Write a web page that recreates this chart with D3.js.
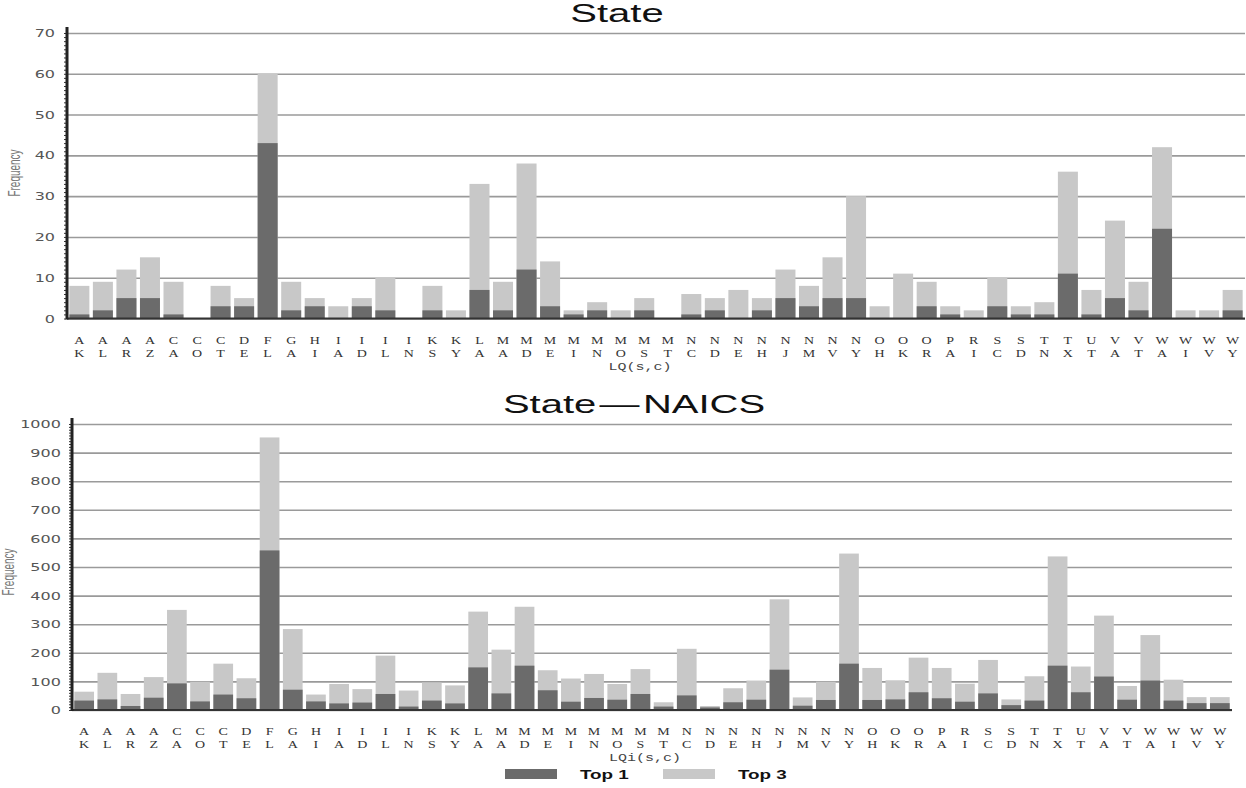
<!DOCTYPE html>
<html>
<head>
<meta charset="utf-8">
<title>State / State-NAICS frequency</title>
<script src="https://d3js.org/d3.v7.min.js"></script>
<style>
  body { margin: 0; background: #fff; }
  svg text { font-family: 'Liberation Sans', Arial, sans-serif; }
  .tick line { stroke: #9a9a9a; stroke-width: 1.6px; }
  .grid .domain, .labels .domain, .minor .domain { display: none; }
  .minor .tick line { stroke: #333; stroke-width: 1px; }
  .labels text { font-family: 'DejaVu Sans', sans-serif; font-size: 10px; fill: #555; }
  .xl { font-family: 'Liberation Serif', 'DejaVu Serif', serif; font-size: 10px; fill: #333; }
  .xt { font-family: 'Liberation Mono', monospace; font-size: 10px; fill: #444; }
</style>
</head>
<body>
<script>
var w = 1246, h = 788;
var sx = 1.6; // picture is stretched sideways

var states = ["AK","AL","AR","AZ","CA","CO","CT","DE","FL","GA","HI","IA","ID","IL","IN","KS","KY","LA","MA","MD",
  "ME","MI","MN","MO","MS","MT","NC","ND","NE","NH","NJ","NM","NV","NY","OH","OK","OR","PA","RI","SC",
  "SD","TN","TX","UT","VA","VT","WA","WI","WV","WY"];

// State chart
var stateTop3 = [8,9,12,15,9,0,8,5,60,9,5,3,5,10,0,8,2,33,9,38,14,2,4,2,5,0,6,5,7,5,12,8,15,30,3,11,9,3,2,10,3,4,36,7,24,9,42,2,2,7];
var stateTop1 = [1,2,5,5,1,0,3,3,43,2,3,0,3,2,0,2,0,7,2,12,3,1,2,0,2,0,1,2,0,2,5,3,5,5,0,0,3,1,0,3,1,1,11,1,5,2,22,0,0,2];
var stateTicks = [0,10,20,30,40,50,60,70];

// State - NAICS chart
var naicsTop3 = [64,130,56,115,350,99,162,111,953,283,54,91,73,190,68,96,86,344,211,361,139,110,126,91,143,27,214,14,76,103,387,44,99,547,147,104,183,147,92,175,37,118,537,152,330,84,262,106,45,45];
var naicsTop1 = [33,37,14,43,93,30,54,41,558,71,30,23,26,56,12,33,23,149,58,155,69,29,42,36,56,12,51,9,27,36,141,15,35,162,35,37,62,41,29,58,17,33,155,62,117,36,103,33,24,24];
var naicsTicks = [0,100,200,300,400,500,600,700,800,900,1000];

var legendNames = ["Top 1", "Top 3"];
var dark = "#6b6b6b", light = "#c8c8c8";

var svg = d3.select("body").append("svg")
  .attr("width", w).attr("height", h);

function stretchText(sel, x, y, txt, k) {
  return sel.append("text")
    .attr("transform", "translate(" + x + "," + y + ") scale(" + (k || sx) + ",1)")
    .text(txt);
}

function drawChart(cfg) {
  var g = svg.append("g");
  var x = d3.scaleBand().domain(states).range([cfg.left, cfg.right]).paddingInner(0.15).paddingOuter(0.1);
  var y = d3.scaleLinear().domain([0, cfg.max]).range([cfg.bottom, cfg.top]);

  // grid lines
  g.append("g").attr("class", "grid")
    .attr("transform", "translate(" + cfg.left + ",0)")
    .call(d3.axisLeft(y).tickValues(cfg.ticks).tickSize(-(cfg.gridEnd - cfg.left)).tickFormat(""));

  // bars, top 3 behind, top 1 in front
  g.append("g").selectAll("rect").data(cfg.top3).enter().append("rect")
    .attr("x", function (d, i) { return x(states[i]); })
    .attr("width", x.bandwidth())
    .attr("y", function (d) { return y(d); })
    .attr("height", function (d) { return y(0) - y(d); })
    .attr("fill", light);
  g.append("g").selectAll("rect").data(cfg.top1).enter().append("rect")
    .attr("x", function (d, i) { return x(states[i]); })
    .attr("width", x.bandwidth())
    .attr("y", function (d) { return y(d); })
    .attr("height", function (d) { return y(0) - y(d); })
    .attr("fill", dark);

  // baseline
  g.append("line")
    .attr("x1", cfg.left).attr("x2", cfg.gridEnd)
    .attr("y1", y(0)).attr("y2", y(0))
    .attr("stroke", "#333").attr("stroke-width", 2);

  // minor ticks on the axis
  g.append("g").attr("class", "minor")
    .attr("transform", "translate(" + (cfg.left - 1) + ",0)")
    .call(d3.axisLeft(y).tickValues(d3.range(0, cfg.max + 1, cfg.minor)).tickSize(2).tickFormat(""));

  // y axis line
  g.append("line")
    .attr("x1", cfg.left).attr("x2", cfg.left)
    .attr("y1", y(0) + 1).attr("y2", y(cfg.max) - 6)
    .attr("stroke", "#222").attr("stroke-width", 3);

  // tick labels
  var lab = g.append("g").attr("class", "labels")
    .attr("transform", "translate(" + cfg.left + ",0)")
    .call(d3.axisLeft(y).tickValues(cfg.ticks).tickSize(0).tickPadding(cfg.pad).tickFormat(d3.format("d")));
  lab.selectAll("text").attr("transform", "scale(" + sx + ",1)").attr("dy", "0.36em");

  // y title
  g.append("text")
    .attr("transform", "translate(" + cfg.ytx + "," + cfg.yty + ") scale(" + sx + ",1) rotate(-90)")
    .attr("text-anchor", "middle")
    .attr("font-size", 10).attr("fill", "#777").attr("font-family", "'DejaVu Sans Condensed', 'DejaVu Sans', sans-serif")
    .attr("font-weight", 200)
    .text("Frequency");

  // x labels, two letters stacked
  var xl = g.append("g").selectAll("g").data(states).enter().append("g")
    .attr("transform", function (d) { return "translate(" + (x(d) + x.bandwidth() / 2) + ",0)"; });
  xl.append("text").attr("class", "xl").attr("text-anchor", "middle")
    .attr("y", cfg.row1).attr("transform", "scale(1.4,1)")
    .text(function (d) { return d[0]; });
  xl.append("text").attr("class", "xl").attr("text-anchor", "middle")
    .attr("y", cfg.row1 + 13).attr("transform", "scale(1.4,1)")
    .text(function (d) { return d[1]; });

  stretchText(g, cfg.xtx, cfg.row1 + 26, cfg.xTitle, 1.5)
    .attr("text-anchor", "middle").attr("class", "xt");

  // chart title
  stretchText(g, cfg.titleX, cfg.titleY, cfg.title)
    .attr("text-anchor", "middle").attr("font-size", 25).attr("fill", "#111");
}

drawChart({
  title: "State", titleX: 617, titleY: 22,
  left: 67, right: 1245, gridEnd: 1245, top: 33, bottom: 318.5,
  max: 70, ticks: stateTicks, minor: 1, pad: 7.5,
  top3: stateTop3, top1: stateTop1,
  ytx: 20, yty: 173, row1: 344, xTitle: "LQ(s,c)", xtx: 640
});

drawChart({
  title: "State\u200a—\u200aNAICS", titleX: 634, titleY: 413,
  left: 72, right: 1232, gridEnd: 1232, top: 424, bottom: 710,
  max: 1000, ticks: naicsTicks, minor: 10, pad: 7,
  top3: naicsTop3, top1: naicsTop1,
  ytx: 14, yty: 572, row1: 735, xTitle: "LQi(s,c)", xtx: 645
});

// legend
var legend = svg.append("g");
var legX = [505, 663];
var legC = [dark, light];
legend.selectAll("rect").data(legendNames).enter().append("rect")
  .attr("x", function (d, i) { return legX[i]; })
  .attr("y", 769).attr("width", 52).attr("height", 10)
  .attr("fill", function (d, i) { return legC[i]; });
legend.selectAll("text").data(legendNames).enter().append("text")
  .attr("transform", function (d, i) { return "translate(" + (legX[i] + 75) + ",779) scale(1.45,1)"; })
  .attr("font-size", 13).attr("font-weight", "bold").attr("fill", "#111")
  .text(function (d) { return d; });
</script>
</body>
</html>
